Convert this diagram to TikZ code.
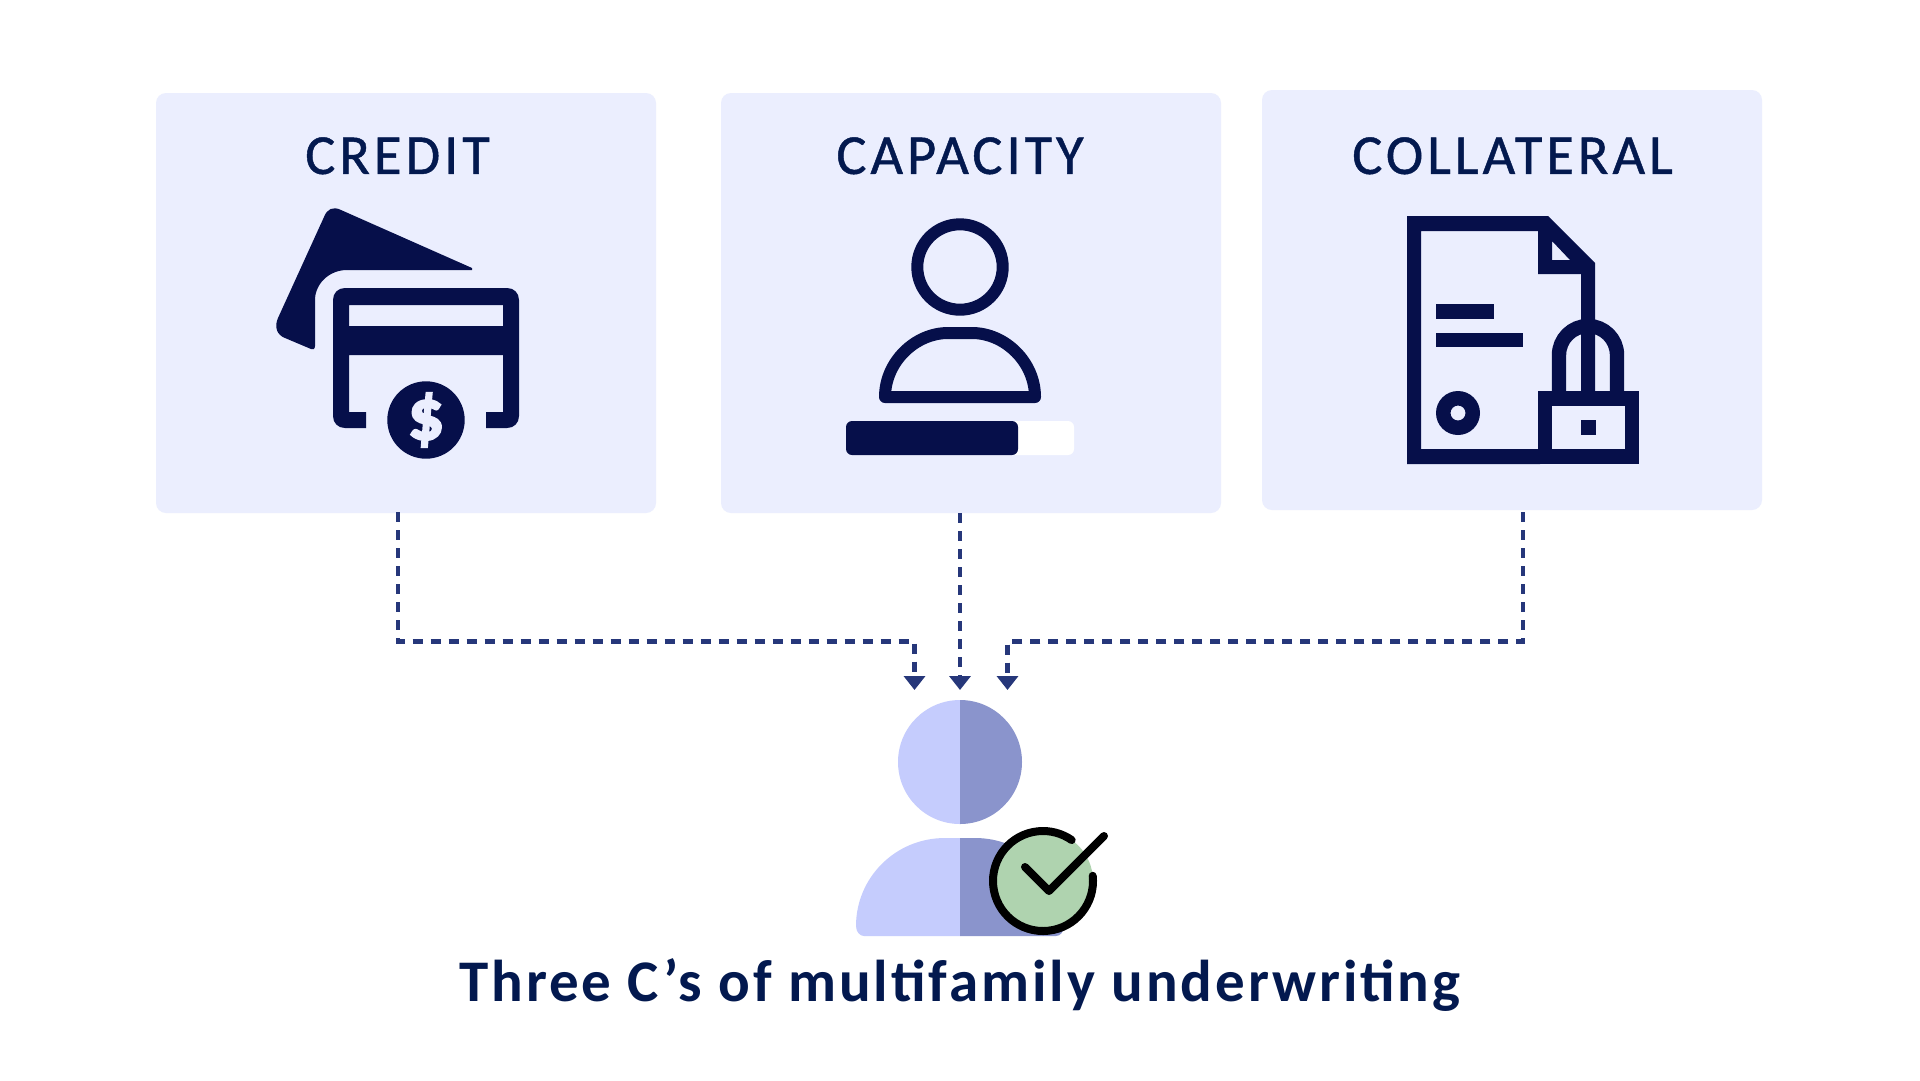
\documentclass[tikz,border=0pt]{standalone}
\usepackage{fontspec}
\usetikzlibrary{arrows.meta}
\setmainfont{Carlito}
\newfontfamily\headfont[LetterSpace=7,FakeBold=0.8]{Carlito}
\newfontfamily\titlefont[LetterSpace=5,BoldFont={Carlito Bold}]{Carlito}
\newfontfamily\dollarfont[FakeBold=3]{Carlito Bold}
\definecolor{navy}{HTML}{060F4A}
\definecolor{textnavy}{HTML}{03194F}
\definecolor{boxbg}{HTML}{EBEEFE}
\definecolor{conn}{HTML}{26377A}
\definecolor{plight}{HTML}{C5CCFD}
\definecolor{pdark}{HTML}{8A94CC}
\definecolor{okgreen}{HTML}{AFD3AF}
\tikzset{
  panel/.style={fill=boxbg,draw=none,rounded corners=10pt,inner sep=0pt,minimum width=500pt,minimum height=420pt},
  headtext/.style={text=textnavy,inner sep=0pt,font=\headfont\fontsize{56.5}{56.5}\selectfont},
  titletext/.style={text=textnavy,inner sep=0pt,font=\titlefont\bfseries\fontsize{59}{59}\selectfont},
  conn line/.style={draw=conn,line width=4.4pt,dash pattern=on 10pt off 8pt},
  conn tip/.style={-{Triangle[width=21pt,length=14pt]}},
  icon line/.style={draw=navy,line width=12pt,line join=round},
  doc line/.style={draw=navy,line width=14.4pt},
  check line/.style={draw=black,line width=8pt,line cap=round,line join=round},
}
\begin{document}
\begin{tikzpicture}[x=1pt,y=-1pt]
\useasboundingbox (0,0) rectangle (1920,1080);
\fill[white] (0,0) rectangle (1920,1080);
% panels
\node[panel] (credit) at (406,303) {};
\node[panel] (capacity) at (971,303) {};
\node[panel] (collateral) at (1512,300) {};
\node[headtext] (h1) at (397.6,155.8) {CREDIT};
\node[headtext] (h2) at (960,155.8) {CAPACITY};
\node[headtext] (h3) at (1512.6,155.8) {COLLATERAL};
% credit icon
\fill[navy] (341,210) -- (472,268) -- (472,270) -- (347,270)
  .. controls (329,270) and (315,284) .. (315,300) -- (315,346)
  .. controls (315,349) and (313,350) .. (311,349) -- (285,338)
  .. controls (277,335) and (274,327) .. (278,318) -- (324,217)
  .. controls (327,209) and (333,206) .. (341,210) -- cycle;
\fill[navy,even odd rule]
  (366,412) -- (349,412) -- (349,355) -- (503,355) -- (503,412) -- (486,412) -- (486,428) -- (507,428)
  .. controls (514,428) and (519,423) .. (519,416) -- (519,300)
  .. controls (519,293) and (514,288) .. (507,288) -- (345,288)
  .. controls (338,288) and (333,293) .. (333,300) -- (333,416)
  .. controls (333,423) and (338,428) .. (345,428) -- (366,428) -- cycle
  (349,305) rectangle (503,326);
\fill[navy] (426,420) circle[radius=38.7];
\node[text=boxbg,inner sep=0pt,font=\dollarfont\fontsize{72}{72}\selectfont] (dollar) at (426,420) {\$};
% capacity icon
\draw[icon line] (960,267) circle[radius=42.7];
\draw[icon line] (885,397) .. controls (885,362) and (915,333) .. (948,333) -- (972,333)
  .. controls (1005,333) and (1035,362) .. (1035,397) -- cycle;
\fill[white,rounded corners=6pt] (846,421) rectangle (1074,455);
\fill[navy,rounded corners=6pt] (846,421) rectangle (1018,455);
% collateral icon
\fill[navy,even odd rule] (1407,216) -- (1548,216) -- (1595,263) -- (1595,400) -- (1540,400) -- (1540,464) -- (1407,464) -- cycle
  (1421,231) -- (1538,231) -- (1538,274) -- (1581,274) -- (1581,391) -- (1538,391) -- (1538,449) -- (1421,449) -- cycle
  (1552,241) -- (1552,260) -- (1570,260) -- cycle;
\draw[doc line] (1559,392) -- (1559,355) arc[start angle=180,end angle=360,radius=29] -- (1617,392);
\fill[navy] (1538,391) rectangle (1639,464);
\fill[boxbg] (1552,406) rectangle (1625,449);
\fill[navy] (1581,420) rectangle (1596,435);
\fill[navy] (1436,304) rectangle (1494,319);
\fill[navy] (1436,333) rectangle (1523,347);
\fill[navy,even odd rule] (1458,413) circle[radius=22] (1458,413) circle[radius=7.5];
% person
\fill[plight] (960,700) arc[start angle=-90,end angle=-270,radius=62] -- cycle;
\fill[pdark] (960,700) arc[start angle=-90,end angle=90,radius=62] -- cycle;
\fill[plight] (960,838) -- (945,838) .. controls (895,838) and (856,878) .. (856,926)
  .. controls (856,932) and (860,936) .. (864,936) -- (960,936) -- cycle;
\fill[pdark] (960,838) -- (975,838) .. controls (1025,838) and (1064,878) .. (1064,926)
  .. controls (1064,932) and (1060,936) .. (1056,936) -- (960,936) -- cycle;
\coordinate (gc) at (1043,881);
\fill[okgreen] (gc) circle[radius=50];
\draw[check line] (gc) ++(-6:50) arc[start angle=-6,end angle=305,radius=50];
\draw[check line] (1025,867) -- (1049,891) -- (1104,836);
% connectors
\coordinate (s1) at (398,512);
\coordinate (t1) at (914.5,690);
\coordinate (s3) at (1523,512);
\coordinate (t3) at (1007.5,690);
\coordinate (t2) at (960,690);
\draw[conn line,conn tip] (s1) -- (398,641.3) -- (914.5,641.3) -- (t1);
\draw[conn line,conn tip] (capacity.south -| t2) -- (t2);
\draw[conn line,conn tip] (s3) -- (1523,641.3) -- (1007.5,641.3) -- (t3);
% title
\node[titletext] (title) at (960,985.5) {Three C’s of multifamily underwriting};
\end{tikzpicture}
\end{document}
